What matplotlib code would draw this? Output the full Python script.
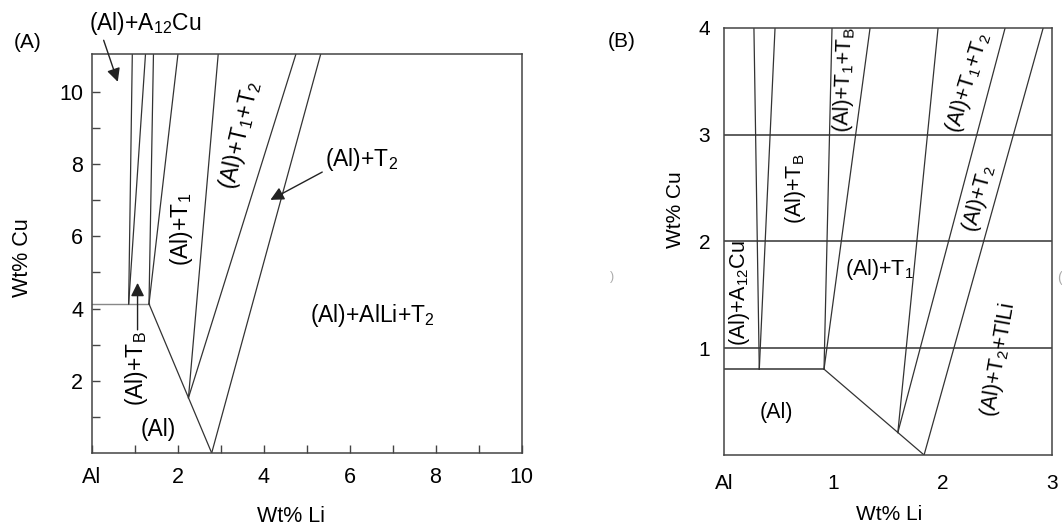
import matplotlib
matplotlib.use("Agg")
import matplotlib.pyplot as plt

plt.rcParams['font.family'] = ['Liberation Sans', 'DejaVu Sans']
plt.rcParams['mathtext.fontset'] = 'custom'
plt.rcParams['mathtext.rm'] = 'Liberation Sans'
plt.rcParams['mathtext.default'] = 'regular'

# ---- panel (A): Al-Cu-Li section, wt% Li vs wt% Cu ----
a_top = 11.05
a_solvus_x = [0.0, 1.336]
a_solvus_y = [4.13, 4.13]
a_diag_x = [1.336, 2.794]
a_diag_y = [4.13, 0.0]
# phase boundaries: (x at bottom end, y at bottom end, x at top edge)
a_bound_x0 = [0.863, 0.863, 1.336, 1.336, 2.254, 2.254, 2.794]
a_bound_y0 = [4.13, 4.13, 4.13, 4.13, 1.53, 1.53, 0.0]
a_bound_x1 = [0.948, 1.255, 1.44, 2.01, 2.946, 4.754, 5.33]
a_xticks = [0, 2, 4, 6, 8, 10]
a_xticklabels = ['Al', '2', '4', '6', '8', '10']
a_yticks = [2, 4, 6, 8, 10]

# ---- panel (B): low Cu / Li corner ----
b_top = 4.0
b_grid_y = [1, 2, 3]
b_solvus_x = [0.0, 0.915]
b_solvus_y = [0.804, 0.804]
b_diag_x = [0.915, 1.83]
b_diag_y = [0.804, 0.0]
b_bound_x0 = [0.323, 0.323, 0.915, 0.915, 1.59, 1.59, 1.83]
b_bound_y0 = [0.804, 0.804, 0.804, 0.804, 0.21, 0.21, 0.0]
b_bound_x1 = [0.274, 0.467, 0.988, 1.336, 1.958, 2.571, 2.919]
b_xticks = [0, 1, 2, 3]
b_xticklabels = ['Al', '1', '2', '3']
b_yticks = [1, 2, 3, 4]

line_c = '#333333'
spine_c = '#444444'
fs = 16.5     # phase labels, panel A
tfs = 15.5    # tick / axis labels, panel A
bfs = 15.5    # phase labels, panel B
btfs = 15     # tick / axis labels, panel B

fig = plt.figure(figsize=(10.62, 5.26), dpi=100)

# ---------------- (A) ----------------
ax = fig.add_axes([0.0862, 0.1388, 0.4049, 0.7586])
ax.plot(a_solvus_x, a_solvus_y, color='#888888', lw=1.0)
ax.plot(a_diag_x, a_diag_y, color=line_c, lw=0.9)
for x0, y0, x1 in zip(a_bound_x0, a_bound_y0, a_bound_x1):
    ax.plot([x0, x1], [y0, a_top], color=line_c, lw=0.9)
ax.set_xlim(0, 10)
ax.set_ylim(0, a_top)
ax.set_xticks(a_xticks)
ax.set_xticklabels(a_xticklabels)
ax.set_xticks([1, 3, 5, 7, 9], minor=True)
ax.set_yticks(a_yticks)
ax.set_yticks([1, 3, 5, 7, 9], minor=True)
ax.tick_params(which='both', direction='in', length=6, width=1, color=spine_c,
               labelsize=tfs, top=False, right=False)
ax.tick_params(axis='x', which='major', pad=10)
ax.tick_params(axis='y', which='major', pad=6)
for s in ax.spines.values():
    s.set_color(spine_c)
    s.set_linewidth(1.1)
ax.set_xlabel('Wt% Li', fontsize=tfs, va='center')
ax.xaxis.set_label_coords(0.465, -0.158)
ax.set_ylabel('Wt% Cu', fontsize=tfs, va='center')
ax.yaxis.set_label_coords(-0.16, 0.489)

ax.text(-1.49, 11.36, '(A)', fontsize=15, ha='center', va='center', clip_on=False)
arrow = dict(arrowstyle='-|>', color='#222222', lw=1.0, mutation_scale=20,
             shrinkA=0, shrinkB=0)
ax.annotate('(Al)+A$_{12}$Cu', xy=(0.61, 10.28), xytext=(1.255, 11.88),
            fontsize=fs, ha='center', va='center', annotation_clip=False,
            arrowprops=dict(arrow, relpos=(0.12, 0.0)))
ax.text(2.085, 6.18, '(Al)+T$_1$', fontsize=fs, rotation=90, ha='center', va='center')
ax.text(3.45, 8.81, '(Al)+T$_1$+T$_2$', fontsize=fs, rotation=77,
        ha='center', va='center', rotation_mode='anchor')
ax.annotate('(Al)+T$_2$', xy=(4.16, 7.01), xytext=(6.28, 8.12), fontsize=fs,
            ha='center', va='center', arrowprops=dict(arrow, relpos=(0.0, 0.1)))
ax.text(6.53, 3.80, '(Al)+AlLi+T$_2$', fontsize=fs, ha='center', va='center')
ax.text(1.047, 2.33, '(Al)+T$_B$', fontsize=fs, rotation=90, ha='center', va='center')
ax.annotate('', xy=(1.07, 4.71), xytext=(1.07, 3.41), arrowprops=arrow)
ax.text(1.55, 0.66, '(Al)', fontsize=fs, ha='center', va='center')

# ---------------- (B) ----------------
bx = fig.add_axes([0.6817, 0.135, 0.3089, 0.8118])
for gy in b_grid_y:
    bx.axhline(gy, color=line_c, lw=1.1)
bx.plot(b_solvus_x, b_solvus_y, color=line_c, lw=1.1)
bx.plot(b_diag_x, b_diag_y, color=line_c, lw=0.9)
for x0, y0, x1 in zip(b_bound_x0, b_bound_y0, b_bound_x1):
    bx.plot([x0, x1], [y0, b_top], color=line_c, lw=0.9)
bx.set_xlim(0, 3)
bx.set_ylim(0, b_top)
bx.set_xticks(b_xticks)
bx.set_xticklabels(b_xticklabels)
bx.set_yticks(b_yticks)
bx.tick_params(length=0, labelsize=btfs)
bx.tick_params(axis='x', pad=14)
bx.tick_params(axis='y', pad=10)
for s in bx.spines.values():
    s.set_color(spine_c)
    s.set_linewidth(1.1)
bx.set_xlabel('Wt% Li', fontsize=btfs, va='center')
bx.xaxis.set_label_coords(0.503, -0.14)
bx.set_ylabel('Wt% Cu', fontsize=btfs, va='center')
bx.yaxis.set_label_coords(-0.149, 0.574)

bx.text(-0.933, 3.874, '(B)', fontsize=15, ha='center', va='center', clip_on=False)
bx.text(0.65, 2.49, '(Al)+T$_B$', fontsize=bfs, rotation=90, ha='center', va='center')
bx.text(1.098, 3.51, '(Al)+T$_1$+T$_B$', fontsize=bfs, rotation=88,
        ha='center', va='center', rotation_mode='anchor')
bx.text(2.232, 3.49, '(Al)+T$_1$+T$_2$', fontsize=bfs, rotation=73,
        ha='center', va='center', rotation_mode='anchor')
bx.text(2.333, 2.40, '(Al)+T$_2$', fontsize=bfs, rotation=75,
        ha='center', va='center', rotation_mode='anchor')
bx.text(1.418, 1.735, '(Al)+T$_1$', fontsize=bfs, ha='center', va='center')
bx.text(0.146, 1.52, '(Al)+A$_{12}$Cu', fontsize=bfs, rotation=90,
        ha='center', va='center')
bx.text(0.476, 0.40, '(Al)', fontsize=bfs, ha='center', va='center')
bx.text(2.516, 0.89, '(Al)+T$_2$+TlLi', fontsize=bfs, rotation=80,
        ha='center', va='center', rotation_mode='anchor')

# cropped fragments at the picture edges
fig.text(612 / 1062, 1 - 277 / 526, ')', fontsize=9, color='#aaaaaa', ha='center', va='center')
fig.text(1059 / 1062, 1 - 278 / 526, '(', fontsize=10, color='#aaaaaa', ha='center', va='center')

fig.savefig('out.png', dpi=100, facecolor='white')
